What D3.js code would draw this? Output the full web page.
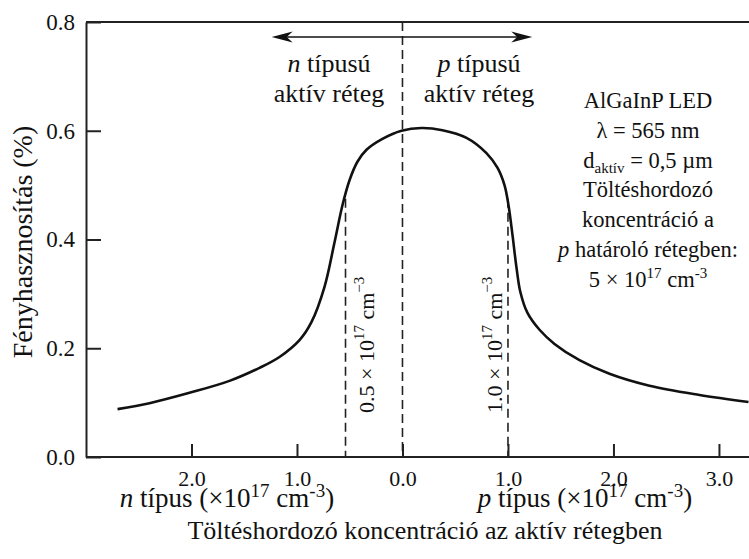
<!DOCTYPE html>
<html>
<head>
<meta charset="utf-8">
<script src="https://cdn.jsdelivr.net/npm/d3@7"></script>
<style>
  body { margin: 0; background: #fff; }
  text { font-family: "Liberation Serif", "Times New Roman", serif; fill: #111; }
</style>
</head>
<body>
<svg id="chart" width="749" height="559"></svg>
<script>
// signed concentration: negative = n type, positive = p type (x10^17 cm^-3)
var concentration = [-2.701, -2.398, -2.019, -1.640, -1.355, -1.166, -0.976, -0.863, -0.739, -0.645, -0.569, -0.502,
  -0.427, -0.341, -0.190, -0.009, 0.180, 0.379, 0.607, 0.796, 0.900, 0.967, 1.005, 1.043, 1.081, 1.118, 1.185,
  1.299, 1.441, 1.678, 1.962, 2.341, 2.815, 3.280];
var efficiency = [0.088, 0.099, 0.118, 0.140, 0.164, 0.184, 0.215, 0.248, 0.313, 0.394, 0.463, 0.509,
  0.543, 0.565, 0.585, 0.600, 0.605, 0.601, 0.587, 0.559, 0.532, 0.500, 0.463, 0.408, 0.348, 0.303, 0.265,
  0.234, 0.208, 0.178, 0.153, 0.131, 0.114, 0.101];

var xTicks = [-2, -1, 0, 1, 2, 3];
var yTicks = [0, 0.2, 0.4, 0.6, 0.8];
var markerLines = [-0.54, 1.0];   // dashed verticals
var arrowSpan = [-1.24, 1.23];
var infoLines = ["AlGaInP LED", "λ = 565 nm", "d_aktív = 0,5 µm", "Töltéshordozó", "koncentráció a", "p határoló rétegben:", "5 × 10^17 cm^-3"];

var svg = d3.select("#chart");
var plotLeft = 86, plotTop = 22, plotBottom = 457;

var x = d3.scaleLinear().domain([-3, 3.3]).range([plotLeft, 750.6]);
var y = d3.scaleLinear().domain([0, 0.8]).range([plotBottom, plotTop]);

svg.append("clipPath").attr("id", "plot")
  .append("rect").attr("x", plotLeft).attr("y", plotTop).attr("width", 749 - plotLeft).attr("height", plotBottom - plotTop);

// frame
svg.append("line").attr("x1", plotLeft).attr("x2", 749).attr("y1", plotTop).attr("y2", plotTop)
  .attr("stroke", "#222").attr("stroke-width", 2);

var xAxis = d3.axisBottom(x).tickValues(xTicks).tickSize(-13).tickSizeOuter(0)
  .tickFormat(function (d) { return d3.format(".1f")(Math.abs(d)); });
var gx = svg.append("g").attr("transform", "translate(0," + plotBottom + ")").call(xAxis);
gx.select(".domain").attr("d", "M" + plotLeft + ",0H749").attr("stroke", "#222").attr("stroke-width", 2);
gx.selectAll(".tick line").attr("stroke", "#222").attr("stroke-width", 2);
gx.selectAll(".tick text").attr("y", 29).attr("dy", 0).attr("font-size", 22)
  .style("font-family", "'Liberation Serif', serif").attr("fill", "#222");

var yAxis = d3.axisLeft(y).tickValues(yTicks).tickSize(-15).tickSizeOuter(0)
  .tickFormat(d3.format(".1f"));
var gy = svg.append("g").attr("transform", "translate(" + plotLeft + ",0)").call(yAxis);
gy.select(".domain").attr("stroke", "#222").attr("stroke-width", 2);
gy.selectAll(".tick line").attr("stroke", "#222").attr("stroke-width", 2);
gy.selectAll(".tick text").attr("x", -11).attr("font-size", 23)
  .style("font-family", "'Liberation Serif', serif").attr("fill", "#222");

// dashed lines
svg.append("line").attr("x1", x(0)).attr("x2", x(0)).attr("y1", plotTop).attr("y2", plotBottom)
  .attr("stroke", "#222").attr("stroke-width", 1.6).attr("stroke-dasharray", "9,5");
svg.selectAll(".marker").data(markerLines).enter().append("line")
  .attr("x1", function (d) { return x(d); }).attr("x2", function (d) { return x(d); })
  .attr("y1", y(0.475)).attr("y2", plotBottom)
  .attr("stroke", "#222").attr("stroke-width", 1.6).attr("stroke-dasharray", "9,5");

// curve
var line = d3.line()
  .x(function (d, i) { return x(concentration[i]); })
  .y(function (d) { return y(d); })
  .curve(d3.curveCatmullRom.alpha(0.5));
svg.append("path").datum(efficiency).attr("d", line)
  .attr("clip-path", "url(#plot)")
  .attr("fill", "none").attr("stroke", "#111").attr("stroke-width", 2.6);

// double arrow
var ay = 37;
svg.append("line").attr("x1", x(arrowSpan[0]) + 10).attr("x2", x(arrowSpan[1]) - 10)
  .attr("y1", ay).attr("y2", ay).attr("stroke", "#111").attr("stroke-width", 1.6);
var xl = x(arrowSpan[0]), xr = x(arrowSpan[1]);
svg.append("path").attr("d", "M" + xl + "," + ay + "L" + (xl + 21) + "," + (ay - 5.5) + "L" + (xl + 15) + "," + ay + "L" + (xl + 21) + "," + (ay + 5.5) + "Z")
  .attr("fill", "#111");
svg.append("path").attr("d", "M" + xr + "," + ay + "L" + (xr - 21) + "," + (ay - 5.5) + "L" + (xr - 15) + "," + ay + "L" + (xr - 21) + "," + (ay + 5.5) + "Z")
  .attr("fill", "#111");

// region labels
function regionLabel(cx, letter) {
  var t = svg.append("text").attr("x", cx).attr("y", 72).attr("text-anchor", "middle").attr("font-size", 26);
  t.append("tspan").attr("font-style", "italic").text(letter);
  t.append("tspan").text(" típusú");
  svg.append("text").attr("x", cx).attr("y", 102).attr("text-anchor", "middle").attr("font-size", 26).text("aktív réteg");
}
regionLabel(329, "n");
regionLabel(479, "p");

// info block
infoLines.forEach(function (s, i) {
  var t = svg.append("text").attr("x", 648).attr("y", 108 + i * 29.8).attr("text-anchor", "middle").attr("font-size", 22.5);
  if (s.indexOf("d_") === 0) {
    t.append("tspan").text("d");
    t.append("tspan").attr("font-size", 15).attr("dy", 5).text("aktív");
    t.append("tspan").attr("dy", -5).text(" = 0,5 µm");
  } else if (s.indexOf("^") > 0) {
    t.append("tspan").text("5 × 10");
    t.append("tspan").attr("font-size", 15).attr("dy", -9).text("17");
    t.append("tspan").attr("dy", 9).text(" cm");
    t.append("tspan").attr("font-size", 15).attr("dy", -9).text("-3");
  } else if (s.indexOf("p ") === 0) {
    t.append("tspan").attr("font-style", "italic").text("p");
    t.append("tspan").text(s.slice(1));
  } else {
    t.text(s);
  }
});

// rotated concentration labels
function rotLabel(px, val) {
  var t = svg.append("text").attr("transform", "translate(" + px + ",413) rotate(-90)").attr("font-size", 22);
  t.append("tspan").text(val + " × 10");
  t.append("tspan").attr("font-size", 15).attr("dy", -10).text("17");
  t.append("tspan").attr("dy", 10).text(" cm");
  t.append("tspan").attr("font-size", 15).attr("dy", -10).text("−3");
}
rotLabel(x(markerLines[0]) + 28, "0.5");
rotLabel(x(markerLines[1]) - 6, "1.0");

// axis titles
function typeLabel(cx, letter) {
  var t = svg.append("text").attr("x", cx).attr("y", 507).attr("text-anchor", "middle").attr("font-size", 27);
  t.append("tspan").attr("font-style", "italic").text(letter);
  t.append("tspan").text(" típus (×10");
  t.append("tspan").attr("font-size", 19).attr("dy", -10).text("17");
  t.append("tspan").attr("dy", 10).text(" cm");
  t.append("tspan").attr("font-size", 19).attr("dy", -10).text("-3");
  t.append("tspan").attr("dy", 10).text(")");
}
typeLabel(227, "n");
typeLabel(585, "p");

svg.append("text").attr("x", 425).attr("y", 539).attr("text-anchor", "middle").attr("font-size", 26)
  .text("Töltéshordozó koncentráció az aktív rétegben");

svg.append("text").attr("transform", "translate(32,242) rotate(-90)").attr("text-anchor", "middle")
  .attr("font-size", 28).text("Fényhasznosítás (%)");
</script>
</body>
</html>
